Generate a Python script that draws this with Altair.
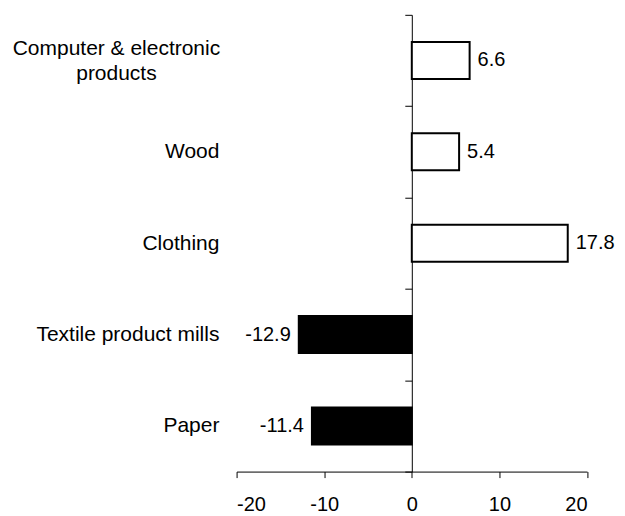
import altair as alt
import pandas as pd

categories = ["Computer & electronic products", "Wood", "Clothing", "Textile product mills", "Paper"]
values = [6.6, 5.4, 17.8, -12.9, -11.4]
x_ticks = [-20, -10, 0, 10, 20]
x_domain = [-20, 20]

df = pd.DataFrame({"industry": categories, "change": values})

FONT = "Liberation Sans"
W, H = 350.6, 457.0
LONG = categories[0]
is_long = f"datum.value == '{LONG}'"

y_enc = alt.Y(
    "industry:N",
    sort=categories,
    title=None,
    scale=alt.Scale(paddingInner=0, paddingOuter=0),
    axis=alt.Axis(
        offset=-W / 2,
        domainColor="black",
        domainWidth=1,
        tickColor="black",
        tickSize=7,
        tickBand="extent",
        grid=False,
        labelFont=FONT,
        labelFontSize=21,
        labelColor="black",
        labelLimit=0,
        labelOverlap=False,
        labelBound=False,
        labelLineHeight=25,
        labelBaseline="middle",
        labelExpr=f"{is_long} ? ['Computer & electronic', 'products'] : datum.label",
        labelAlign={"condition": {"test": is_long, "value": "center"}, "value": "right"},
        labelPadding={"condition": {"test": is_long, "value": 289}, "value": 186},
        labelOffset={"condition": {"test": is_long, "value": -12}, "value": 0},
    ),
)

x_enc = alt.X(
    "change:Q",
    title=None,
    scale=alt.Scale(domain=x_domain, nice=False, zero=False),
    axis=alt.Axis(
        values=x_ticks,
        grid=False,
        domainColor="black",
        tickColor="black",
        tickSize=6,
        labelFont=FONT,
        labelFontSize=20,
        labelColor="black",
        labelPadding=17,
        labelExpr="replace(datum.label, '\u2212', '-')",
    ),
)

base = alt.Chart(df).transform_calculate(
    label="replace(format(datum.change, '.1f'), '\u2212', '-')"
)

bars = base.mark_bar(
    stroke="black", strokeWidth=2, height=alt.RelativeBandSize(band=0.405)
).encode(
    x=x_enc,
    x2=alt.datum(0),
    y=y_enc,
    fill=alt.condition("datum.change > 0", alt.value("white"), alt.value("black")),
)

pos_text = base.transform_filter("datum.change > 0").mark_text(
    align="left", baseline="middle", dx=8, font=FONT, fontSize=20, color="black"
).encode(x=x_enc, y=y_enc, text="label:N")

neg_text = base.transform_filter("datum.change < 0").mark_text(
    align="right", baseline="middle", dx=-8, font=FONT, fontSize=20, color="black"
).encode(x=x_enc, y=y_enc, text="label:N")

chart = (
    alt.layer(bars, pos_text, neg_text)
    .properties(
        width=W,
        height=H,
        autosize=alt.AutoSizeParams(type="none"),
        padding={"left": 228.7, "top": 6.7, "right": 30, "bottom": 45},
        background="white",
    )
    .configure_view(stroke=None)
)

chart.save("out.html", embed_options={"renderer": "svg", "actions": False})
